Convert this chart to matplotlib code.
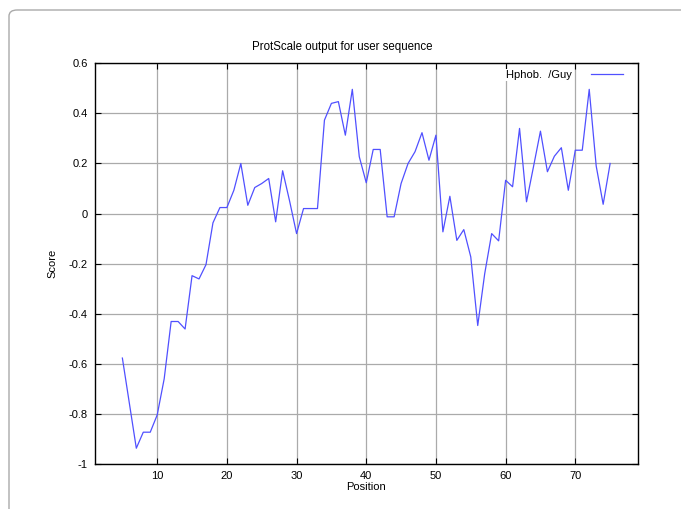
import matplotlib
matplotlib.use("Agg")
import matplotlib.pyplot as plt
from matplotlib.patches import FancyBboxPatch

plt.rcParams["font.family"] = ["Liberation Sans", "DejaVu Sans"]
plt.rcParams["font.size"] = 8

# Hydrophobicity profile (Guy scale), window-averaged scores per residue
positions = list(range(5, 76))
scores = [
    -0.577, -0.757, -0.937, -0.873, -0.873, -0.804, -0.66, -0.431, -0.431, -0.461,
    -0.248, -0.261, -0.204, -0.037, 0.024, 0.024, 0.093, 0.200, 0.033, 0.104,
    0.120, 0.140, -0.033, 0.171, 0.050, -0.080, 0.020, 0.020, 0.020, 0.373,
    0.440, 0.447, 0.313, 0.496, 0.227, 0.123, 0.256, 0.256, -0.013, -0.013,
    0.120, 0.200, 0.247, 0.323, 0.213, 0.313, -0.073, 0.069, -0.107, -0.064,
    -0.173, -0.447, -0.240, -0.080, -0.109, 0.133, 0.107, 0.340, 0.047, 0.187,
    0.329, 0.167, 0.229, 0.263, 0.093, 0.253, 0.253, 0.496, 0.190, 0.037,
    0.200,
]
series_label = "Hphob.  /Guy"
title = "ProtScale output for user sequence"
x_ticks = [10, 20, 30, 40, 50, 60, 70]
y_ticks = [-1, -0.8, -0.6, -0.4, -0.2, 0, 0.2, 0.4, 0.6]
y_tick_labels = ["-1", "-0.8", "-0.6", "-0.4", "-0.2", "0", "0.2", "0.4", "0.6"]

fig = plt.figure(figsize=(6.81, 5.09), dpi=100)

# light rounded frame around the page, running off the right/bottom edges
frame = FancyBboxPatch((9 / 681, -0.1), 1.2, (509 - 10) / 509 + 0.1,
                       boxstyle="round,pad=0,rounding_size=0.012",
                       transform=fig.transFigure, facecolor="none",
                       edgecolor="#aaaaaa", linewidth=1.0, zorder=0)
fig.patches.append(frame)

ax = fig.add_axes([94.5 / 681, 1 - 464 / 509, (638 - 94.5) / 681, (464 - 63.3) / 509])
ax.plot(positions, scores, color="#5050ff", linewidth=0.9, label=series_label,
        zorder=3)

ax.set_xlim(1, 79)
ax.set_ylim(-1, 0.6)
ax.set_xticks(x_ticks)
ax.set_yticks(y_ticks)
ax.set_yticklabels(y_tick_labels)
ax.grid(True, color="#aaaaaa", linewidth=0.9, zorder=1)
ax.tick_params(direction="in", length=4, width=0.8, top=True, right=True,
               labelsize=8, pad=5)
for spine in ax.spines.values():
    spine.set_linewidth(1.0)
    spine.set_zorder(4)

# gnuplot puts the title a little left of the plot centre
fig.text(342 / 681, 1 - 47 / 509, title, fontsize=8.3, ha="center", va="center")
ax.set_xlabel("Position", fontsize=8, labelpad=1)
ax.set_ylabel("Score", fontsize=8, labelpad=8)

leg = ax.legend(loc="upper right", bbox_to_anchor=(0.985, 1.0), frameon=False,
                markerfirst=False, handlelength=2.9, handletextpad=1.7,
                borderaxespad=0.2, fontsize=8)
for text in leg.get_texts():
    text.set_bbox(dict(facecolor="white", edgecolor="none", pad=1))

fig.savefig("out.png", dpi=100)
